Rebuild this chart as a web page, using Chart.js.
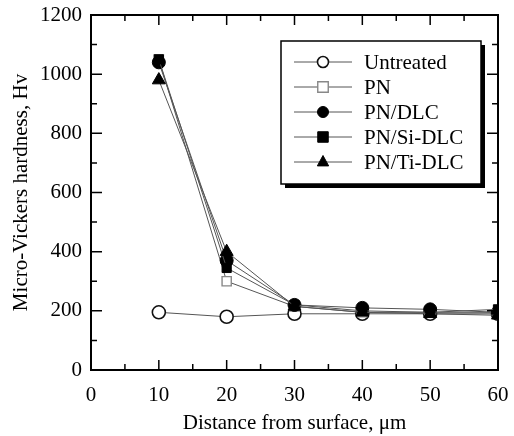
<!DOCTYPE html>
<html>
<head>
<meta charset="utf-8">
<script src="https://cdn.jsdelivr.net/npm/chart.js@4.4.1/dist/chart.umd.min.js"></script>
<style>
html,body{margin:0;padding:0;background:#fff;}
#wrap{width:514px;height:436px;position:relative;}
</style>
</head>
<body>
<div id="wrap"><canvas id="c" width="514" height="436"></canvas></div>
<script>
const distances = [10, 20, 30, 40, 50, 60];
const seriesNames = ["Untreated", "PN", "PN/DLC", "PN/Si-DLC", "PN/Ti-DLC"];
const untreated = [195, 180, 190, 190, 190, 190];
const pn = [1050, 300, 215, 195, 195, 195];
const pnDlc = [1040, 370, 220, 210, 205, 195];
const pnSiDlc = [1050, 345, 220, 200, 195, 205];
const pnTiDlc = [980, 400, 215, 195, 190, 185];
const xTicks = [0, 10, 20, 30, 40, 50, 60];
const yTicks = [0, 200, 400, 600, 800, 1000, 1200];

const FONT = "'Liberation Serif', 'Times New Roman', serif";
const FS = 21;
const styles = [
  {pointStyle:'circle', bg:'#fff', border:'#111', r:6.5, bw:1.6},
  {pointStyle:'rect', bg:'#fff', border:'#888', r:6.5, bw:1.4},
  {pointStyle:'circle', bg:'#000', border:'#000', r:6.5, bw:1},
  {pointStyle:'rect', bg:'#000', border:'#000', r:6.5, bw:1},
  {pointStyle:'triangle', bg:'#000', border:'#000', r:7.5, bw:1}
];
const values = [untreated, pn, pnDlc, pnSiDlc, pnTiDlc];

const datasets = seriesNames.map((n,i)=>({
  label:n,
  order: seriesNames.length - i,
  data: distances.map((d,j)=>({x:d, y:values[i][j]})),
  borderColor:'#555',
  borderWidth:1,
  pointStyle:styles[i].pointStyle,
  pointRadius:styles[i].r,
  pointBackgroundColor:styles[i].bg,
  pointBorderColor:styles[i].border,
  pointBorderWidth:styles[i].bw,
  tension:0,
  fill:false
}));

const frameTicks = {
  id:'frameTicks',
  afterDatasetsDraw(chart){
    const {ctx, chartArea:a, scales:{x,y}} = chart;
    ctx.save();
    ctx.strokeStyle='#000';
    ctx.lineWidth=1.5;
    ctx.beginPath();
    for(let v=0; v<=60; v+=5){
      const px=x.getPixelForValue(v);
      const L = (v%10===0)?10:6;
      ctx.moveTo(px,a.bottom); ctx.lineTo(px,a.bottom-L);
      ctx.moveTo(px,a.top); ctx.lineTo(px,a.top+L);
    }
    for(let v=0; v<=1200; v+=100){
      const py=y.getPixelForValue(v);
      const L = (v%200===0)?11:6;
      ctx.moveTo(a.left,py); ctx.lineTo(a.left+L,py);
      ctx.moveTo(a.right,py); ctx.lineTo(a.right-L,py);
    }
    ctx.stroke();
    ctx.lineWidth=2;
    ctx.strokeRect(a.left,a.top,a.right-a.left,a.bottom-a.top);
    ctx.restore();
  }
};

const legendBox = {
  id:'legendBox',
  afterDraw(chart){
    const ctx=chart.ctx;
    const bx=281, by=41, bw=200, bh=143;
    ctx.save();
    ctx.fillStyle='#000';
    ctx.fillRect(bx+4, by+4, bw, bh);
    ctx.fillStyle='#fff';
    ctx.fillRect(bx, by, bw, bh);
    ctx.strokeStyle='#000';
    ctx.lineWidth=1.5;
    ctx.strokeRect(bx, by, bw, bh);
    ctx.font = FS + "px " + FONT;
    ctx.textBaseline='middle';
    ctx.textAlign='left';
    seriesNames.forEach((n,i)=>{
      const yy = 62 + i*25;
      ctx.strokeStyle='#555'; ctx.lineWidth=1;
      ctx.beginPath(); ctx.moveTo(294,yy); ctx.lineTo(352,yy); ctx.stroke();
      const s=styles[i];
      ctx.fillStyle=s.bg; ctx.strokeStyle=s.border; ctx.lineWidth=s.bw;
      ctx.beginPath();
      if(s.pointStyle==='circle'){ ctx.arc(323,yy,s.r-1,0,Math.PI*2); }
      else if(s.pointStyle==='rect'){ const h=(s.r-1)*Math.SQRT1_2*1.35; ctx.rect(323-h,yy-h,2*h,2*h); }
      else { const r=s.r-1; ctx.moveTo(323,yy-r); ctx.lineTo(323+r*0.87,yy+r*0.6); ctx.lineTo(323-r*0.87,yy+r*0.6); ctx.closePath(); }
      ctx.fill(); ctx.stroke();
      ctx.fillStyle='#000';
      ctx.fillText(n, 364, yy+1);
    });
    ctx.restore();
  }
};

new Chart(document.getElementById('c'), {
  type:'line',
  data:{datasets},
  options:{
    responsive:false,
    animation:false,
    devicePixelRatio:1,
    layout:{padding:{top:15, right:16, left:0, bottom:0}},
    plugins:{legend:{display:false}, tooltip:{enabled:false}},
    scales:{
      x:{
        type:'linear', min:0, max:60,
        afterBuildTicks(s){ s.ticks = xTicks.map(v=>({value:v})); },
        afterFit(s){ s.height=66; s.paddingLeft=0; s.paddingRight=0; },
        grid:{display:false, drawTicks:false},
        border:{display:false},
        ticks:{color:'#000', font:{family:FONT, size:FS}, padding:13, maxRotation:0, callback:(v)=>String(v)},
        title:{display:true, text:'Distance from surface, μm', color:'#000', font:{family:FONT, size:FS}, padding:{top:0,bottom:0}}
      },
      y:{
        type:'linear', min:0, max:1200,
        afterBuildTicks(s){ s.ticks = yTicks.map(v=>({value:v})); },
        afterFit(s){ s.width=91; s.paddingTop=0; s.paddingBottom=0; },
        grid:{display:false, drawTicks:false},
        border:{display:false},
        ticks:{color:'#000', font:{family:FONT, size:FS}, padding:9, callback:(v)=>String(v)},
        title:{display:true, text:'Micro-Vickers hardness, Hv', color:'#000', font:{family:FONT, size:FS}, padding:{top:9,bottom:0}}
      }
    }
  },
  plugins:[frameTicks, legendBox]
});
</script>
</body>
</html>
